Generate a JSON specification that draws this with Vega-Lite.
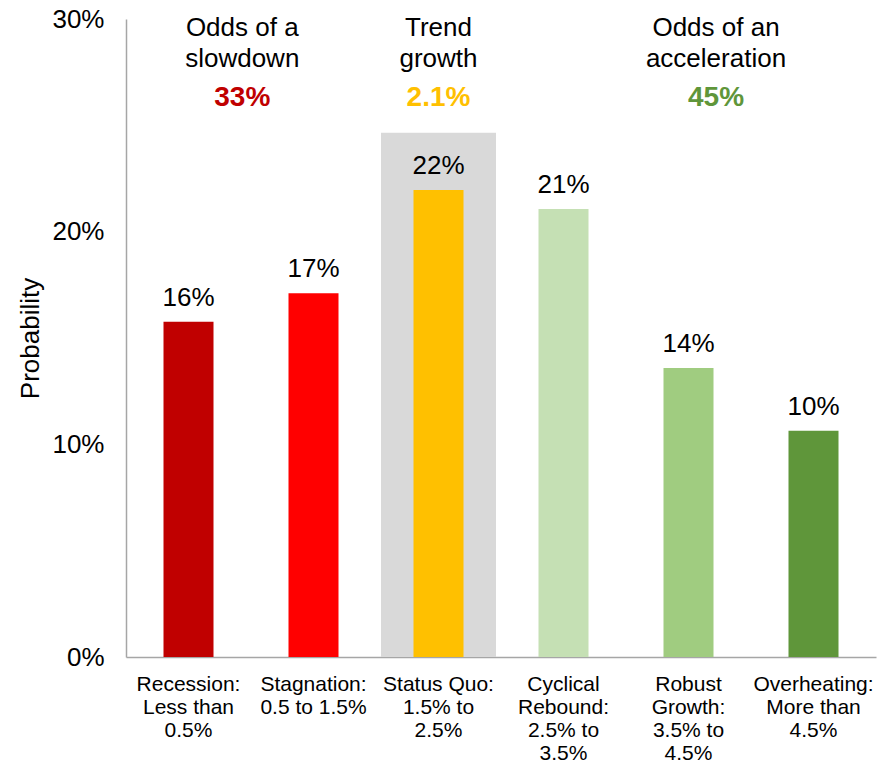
{
  "$schema": "https://vega.github.io/schema/vega-lite/v6.json",
  "width": 750,
  "height": 638,
  "autosize": {"type": "none"},
  "padding": {"left": 126, "top": 19, "right": 15, "bottom": 109},
  "config": {"view": {"stroke": null}, "font": "Liberation Sans"},
  "datasets": {
    "bars": [
      {"scenario": "Recession:|Less than|0.5%", "prob": 0.1576, "label": "16%", "color": "#C00000"},
      {"scenario": "Stagnation:|0.5 to 1.5%", "prob": 0.1711, "label": "17%", "color": "#FF0000"},
      {"scenario": "Status Quo:|1.5% to|2.5%", "prob": 0.2196, "label": "22%", "color": "#FFC000"},
      {"scenario": "Cyclical|Rebound:|2.5% to|3.5%", "prob": 0.2106, "label": "21%", "color": "#C5E0B4"},
      {"scenario": "Robust|Growth:|3.5% to|4.5%", "prob": 0.1359, "label": "14%", "color": "#A0CC80"},
      {"scenario": "Overheating:|More than|4.5%", "prob": 0.1064, "label": "10%", "color": "#5F963A"}
    ],
    "band": [
      {"scenario": "Status Quo:|1.5% to|2.5%", "top": 0.2465}
    ],
    "heads": [
      {"pos": 0.93, "line": ["Odds of a", "slowdown"], "odds": "33%", "color": "#C00000"},
      {"pos": 2.5, "line": ["Trend", "growth"], "odds": "2.1%", "color": "#FFC000"},
      {"pos": 4.72, "line": ["Odds of an", "acceleration"], "odds": "45%", "color": "#5F963A"}
    ]
  },
  "layer": [
    {
      "layer": [
        {
          "data": {"name": "band"},
          "mark": {"type": "bar", "color": "#D9D9D9", "width": {"band": 0.92}},
          "encoding": {
            "x": {
              "field": "scenario", "type": "nominal", "sort": null,
              "scale": {
                "domain": ["Recession:|Less than|0.5%", "Stagnation:|0.5 to 1.5%", "Status Quo:|1.5% to|2.5%", "Cyclical|Rebound:|2.5% to|3.5%", "Robust|Growth:|3.5% to|4.5%", "Overheating:|More than|4.5%"],
                "paddingInner": 0, "paddingOuter": 0
              },
              "axis": {
                "title": null, "labelAngle": 0, "ticks": false,
                "domainColor": "#A6A6A6", "domainWidth": 1.5,
                "labelFontSize": 21, "labelLineHeight": 23, "labelPadding": 16,
                "labelColor": "#000000", "labelLimit": 300, "labelOverlap": false,
                "labelExpr": "split(datum.label, '|')"
              }
            },
            "y": {
              "field": "top", "type": "quantitative",
              "scale": {"domain": [0, 0.3]},
              "axis": {
                "values": [0, 0.1, 0.2, 0.3], "format": ".0%",
                "title": "Probability", "titleFontSize": 26, "titleFontWeight": "normal",
                "titleColor": "#000000", "titlePadding": 8,
                "ticks": false, "grid": false,
                "domainColor": "#A6A6A6", "domainWidth": 1.5,
                "labelFontSize": 26, "labelColor": "#000000", "labelPadding": 22
              }
            }
          }
        },
        {
          "data": {"name": "bars"},
          "mark": {"type": "bar", "width": {"band": 0.4}},
          "encoding": {
            "x": {"field": "scenario", "type": "nominal", "sort": null},
            "y": {"field": "prob", "type": "quantitative"},
            "color": {"field": "color", "type": "nominal", "scale": null}
          }
        },
        {
          "data": {"name": "bars"},
          "mark": {"type": "text", "fontSize": 26, "dy": -16, "baseline": "alphabetic", "color": "#000000"},
          "encoding": {
            "x": {"field": "scenario", "type": "nominal", "sort": null},
            "y": {"field": "prob", "type": "quantitative"},
            "text": {"field": "label", "type": "nominal"}
          }
        }
      ]
    },
    {
      "data": {"name": "heads"},
      "layer": [
        {
          "mark": {"type": "text", "fontSize": 26, "lineHeight": 31, "baseline": "alphabetic", "color": "#000000"},
          "encoding": {
            "x": {"field": "pos", "type": "quantitative", "scale": {"domain": [0, 6], "nice": false, "zero": false}, "axis": null},
            "y": {"datum": 0.292, "type": "quantitative"},
            "text": {"field": "line", "type": "nominal"}
          }
        },
        {
          "mark": {"type": "text", "fontSize": 28, "fontWeight": "bold", "baseline": "alphabetic"},
          "encoding": {
            "x": {"field": "pos", "type": "quantitative", "scale": {"domain": [0, 6], "nice": false, "zero": false}, "axis": null},
            "y": {"datum": 0.259, "type": "quantitative"},
            "text": {"field": "odds", "type": "nominal"},
            "color": {"field": "color", "type": "nominal", "scale": null}
          }
        }
      ]
    }
  ],
  "resolve": {"scale": {"x": "independent"}}
}
